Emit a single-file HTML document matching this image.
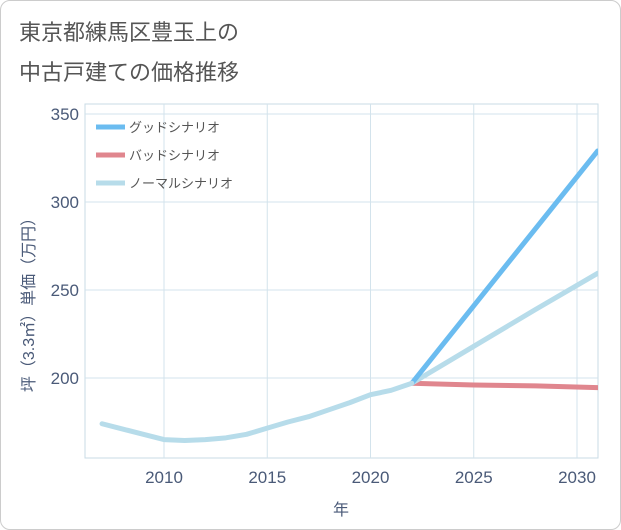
<!DOCTYPE html>
<html><head><meta charset="utf-8"><style>
body{margin:0;background:#fff;font-family:"Liberation Sans","Noto Sans CJK JP",sans-serif;}
#wrap{position:relative;width:619px;height:528px;border:1px solid #ccc;border-radius:10px;overflow:hidden;}
.title{position:absolute;left:18px;font-size:22px;color:#555;}
</style></head><body>
<div id="wrap">
<div class="title" style="top:14px">東京都練馬区豊玉上の</div>
<div class="title" style="top:54px">中古戸建ての価格推移</div>
<svg id="c" width="621" height="530" style="position:absolute;left:0;top:0"></svg>
</div>
<script>
const years=[2007,2008,2009,2010,2011,2012,2013,2014,2015,2016,2017,2018,2019,2020,2021,2022];
const hist=[174,171,168,165,164.5,165,166,168,171.5,175,178,182,186,190.5,193,197];
const futYears=[2022,2025,2028,2031];
const good=[197,241,285,329];
const bad=[197,196,195.5,194.5];
const normal=[197,218,239,259.5];
const xTicks=[2010,2015,2020,2025,2030];
const yTicks=[200,250,300,350];
const L=84,R=597,T=103,B=457;
const x=v=>163+(v-2010)*(576-163)/20;
const y=v=>377-(v-200)*(377-113)/150;
const s=document.getElementById('c');const NS='http://www.w3.org/2000/svg';
function mk(t,a,txt){const e=document.createElementNS(NS,t);for(const k in a)e.setAttribute(k,a[k]);if(txt!==undefined)e.textContent=txt;s.appendChild(e);return e;}
let e=mk('rect',{x:L,y:T,width:R-L,height:B-T,fill:'none',stroke:'#c8dbe6'});

xTicks.forEach(t=>{let g=mk('line',{x1:x(t),x2:x(t),y1:T,y2:B,stroke:'#d3e3ec'});
let l=mk('text',{x:x(t),y:482,'text-anchor':'middle','font-size':17,fill:'#4a5a78'},t);});
[2005,2035].forEach(()=>{});
yTicks.forEach(t=>{let g=mk('line',{x1:L,x2:R,y1:y(t),y2:y(t),stroke:'#d3e3ec'});
let l=mk('text',{x:78,y:y(t)+6,'text-anchor':'end','font-size':17,fill:'#4a5a78'},t);});
let xt=mk('text',{x:340,y:514,'text-anchor':'middle','font-size':16,fill:'#4a5a78'},'年');
let yt=mk('text',{x:0,y:0,transform:'translate(33,300) rotate(-90)','text-anchor':'middle','font-size':16,fill:'#4a5a78'},'坪（3.3㎡）単価（万円）');
function line(xs,vs,c,name){let p=mk('polyline',{points:xs.map((v,i)=>x(v)+','+y(vs[i])).join(' '),fill:'none',stroke:c,'stroke-width':5,'stroke-linejoin':'round','stroke-linecap':'round'});}
const cp=mk('clipPath',{id:'cp'});const cr=document.createElementNS(NS,'rect');cr.setAttribute('x',L);cr.setAttribute('y',T);cr.setAttribute('width',R-L);cr.setAttribute('height',B-T);cp.appendChild(cr);
const g0=s.children.length;
line(futYears,bad,'#e0868e','bad-scenario-line');
line(futYears,normal,'#b7dcea','normal-scenario-line');
line(futYears,good,'#6bbcf0','good-scenario-line');
line(years,hist,'#b7dcea','historical-line');
for(let i=g0;i<s.children.length;i++)s.children[i].setAttribute('clip-path','url(#cp)');
[['グッドシナリオ','#6bbcf0',126],['バッドシナリオ','#e0868e',154],['ノーマルシナリオ','#b7dcea',182]].forEach(([n,c,yy])=>{
let l=mk('line',{x1:95,x2:124,y1:yy,y2:yy,stroke:c,'stroke-width':5});
let t=mk('text',{x:128,y:yy+5,'font-size':13,fill:'#555'},n);});
</script></body></html>
